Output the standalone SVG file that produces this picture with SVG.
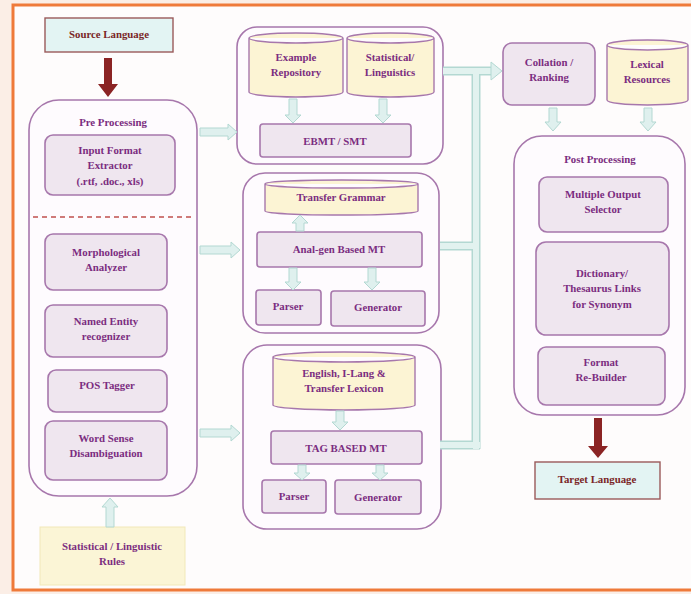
<svg xmlns="http://www.w3.org/2000/svg" width="691" height="594" viewBox="0 0 691 594">
<style>
.t{font-family:"Liberation Serif","Times New Roman",serif;font-weight:bold;font-size:10.8px;fill:#7b2d80;text-anchor:middle}
.r{fill:#7a2626}
.box{fill:#efe6ef;stroke:#a777ac;stroke-width:1.6}
.grp{fill:#fefbfe;stroke:#a777ac;stroke-width:1.6}
.cyl{fill:#fcf4d4;stroke:#a777ac;stroke-width:1.4}
.arr{fill:#dff0ee;stroke:#b3d8d2;stroke-width:1}
.bo{fill:none;stroke:#b3d8d2;stroke-width:9}
.bi{fill:none;stroke:#e2f2ef;stroke-width:6}
.lang{fill:#e3f4f3;stroke:#9a5a5a;stroke-width:1.4}
</style>
<rect x="0" y="0" width="691" height="594" fill="#fbeee6"/>
<rect x="13" y="5" width="690" height="585" fill="#fefcfc" stroke="#ef7a3a" stroke-width="3"/>

<g id="source-language">
<rect class="lang" x="45" y="18" width="128" height="34"/>
<text class="t r" x="109" y="38">Source Language</text>
</g>

<g id="pre-processing">
<rect class="grp" x="29" y="100" width="168" height="396" rx="30"/>
<text class="t" x="113" y="126">Pre Processing</text>
<line x1="33" y1="217" x2="193" y2="217" stroke="#c0504d" stroke-width="1.3" stroke-dasharray="5,4"/>
</g>
<g id="input-format">
<rect class="box" x="45" y="135" width="130" height="60" rx="8"/>
<text class="t" x="110" y="154">Input Format</text>
<text class="t" x="110" y="169">Extractor</text>
<text class="t" x="110" y="185">(.rtf, .doc., xls)</text>
</g>
<g id="morph">
<rect class="box" x="45" y="234" width="122" height="56" rx="8"/>
<text class="t" x="106" y="256">Morphological</text>
<text class="t" x="106" y="271">Analyzer</text>
</g>
<g id="ner">
<rect class="box" x="45" y="305" width="122" height="52" rx="8"/>
<text class="t" x="106" y="325">Named Entity</text>
<text class="t" x="106" y="340">recognizer</text>
</g>
<g id="pos">
<rect class="box" x="48" y="370" width="119" height="42" rx="8"/>
<text class="t" x="107" y="389">POS Tagger</text>
</g>
<g id="wsd">
<rect class="box" x="45" y="421" width="122" height="59" rx="8"/>
<text class="t" x="106" y="442">Word Sense</text>
<text class="t" x="106" y="457">Disambiguation</text>
</g>
<g id="stat-rules">
<rect x="40" y="527" width="145" height="58" fill="#fbf5d6" stroke="#f1e8b8" stroke-width="1"/>
<text class="t" x="112" y="550">Statistical / Linguistic</text>
<text class="t" x="112" y="565">Rules</text>
</g>

<g id="ebmt-group">
<rect class="grp" x="237" y="27" width="206" height="137" rx="20"/>
</g>
<g id="example-repo">
<path class="cyl" d="M249,38 A47,5 0 0 1 343,38 V92 A47,5 0 0 1 249,92 Z M249,38 A47,5 0 0 0 343,38"/>
<text class="t" x="296" y="61">Example</text>
<text class="t" x="296" y="76">Repository</text>
</g>
<g id="stat-ling">
<path class="cyl" d="M347,38 A43.5,5 0 0 1 434,38 V92 A43.5,5 0 0 1 347,92 Z M347,38 A43.5,5 0 0 0 434,38"/>
<text class="t" x="390" y="61">Statistical/</text>
<text class="t" x="390" y="76">Linguistics</text>
</g>
<g id="ebmt">
<rect class="box" x="260" y="124" width="151" height="33" rx="3"/>
<text class="t" x="335" y="145">EBMT / SMT</text>
</g>

<g id="analgen-group">
<rect class="grp" x="243" y="173" width="196" height="160" rx="22"/>
</g>
<g id="transfer-grammar">
<path class="cyl" d="M265,184 A76.5,4 0 0 1 418,184 V211 A76.5,4 0 0 1 265,211 Z M265,184 A76.5,4 0 0 0 418,184"/>
<text class="t" x="341" y="201">Transfer Grammar</text>
</g>
<g id="analgen">
<rect class="box" x="257" y="232" width="165" height="35" rx="3"/>
<text class="t" x="339" y="253">Anal-gen Based MT</text>
</g>
<g id="parser1">
<rect class="box" x="256" y="290" width="65" height="35" rx="3"/>
<text class="t" x="288" y="310">Parser</text>
</g>
<g id="generator1">
<rect class="box" x="331" y="291" width="94" height="35" rx="3"/>
<text class="t" x="378" y="311">Generator</text>
</g>

<g id="tag-group">
<rect class="grp" x="243" y="345" width="198" height="184" rx="24"/>
</g>
<g id="lexicon">
<path class="cyl" d="M273,357 A71,5 0 0 1 415,357 V405 A71,5 0 0 1 273,405 Z M273,357 A71,5 0 0 0 415,357"/>
<text class="t" x="344" y="377">English, I-Lang &amp;</text>
<text class="t" x="344" y="392">Transfer Lexicon</text>
</g>
<g id="tag">
<rect class="box" x="271" y="431" width="151" height="33" rx="3"/>
<text class="t" x="346" y="452">TAG BASED MT</text>
</g>
<g id="parser2">
<rect class="box" x="262" y="480" width="64" height="33" rx="3"/>
<text class="t" x="294" y="500">Parser</text>
</g>
<g id="generator2">
<rect class="box" x="335" y="480" width="86" height="34" rx="3"/>
<text class="t" x="378" y="501">Generator</text>
</g>

<g id="collation">
<rect class="box" x="503" y="43" width="92" height="62" rx="9"/>
<text class="t" x="549" y="66">Collation /</text>
<text class="t" x="549" y="81">Ranking</text>
</g>
<g id="lexical">
<path class="cyl" d="M607,45 A40.5,5 0 0 1 688,45 V100 A40.5,5 0 0 1 607,100 Z M607,45 A40.5,5 0 0 0 688,45"/>
<text class="t" x="647" y="68">Lexical</text>
<text class="t" x="647" y="83">Resources</text>
</g>

<g id="post-processing">
<rect class="grp" x="514" y="136" width="171" height="279" rx="28"/>
<text class="t" x="600" y="163">Post Processing</text>
</g>
<g id="mos">
<rect class="box" x="539" y="177" width="129" height="55" rx="8"/>
<text class="t" x="603" y="198">Multiple Output</text>
<text class="t" x="603" y="213">Selector</text>
</g>
<g id="dict">
<rect class="box" x="536" y="242" width="133" height="93" rx="10"/>
<text class="t" x="602" y="277">Dictionary/</text>
<text class="t" x="602" y="292">Thesaurus Links</text>
<text class="t" x="602" y="308">for Synonym</text>
</g>
<g id="format">
<rect class="box" x="538" y="347" width="127" height="58" rx="8"/>
<text class="t" x="601" y="366">Format</text>
<text class="t" x="601" y="381">Re-Builder</text>
</g>
<g id="target-language">
<rect class="lang" x="535" y="462" width="125" height="37"/>
<text class="t r" x="597" y="483">Target Language</text>
</g>

<g id="connectors">
<path d="M104,58 H112 V84 H118 L108,97 L98,84 H104 Z" fill="#8b2424"/>
<path d="M594,418 H602 V446 H608 L598,458 L588,446 H594 Z" fill="#8b2424"/>
<path class="arr" d="M200,128 H228 V124 L237,132 L228,140 V136 H200 Z"/>
<path class="arr" d="M200,246 H231 V242 L240,250 L231,258 V254 H200 Z"/>
<path class="arr" d="M200,429 H231 V425 L240,433 L231,441 V437 H200 Z"/>
<path class="arr" d="M106,527 V507 H102 L110,498 L118,507 H114 V527 Z"/>
<path class="arr" d="M289,99 V115 H285 L293,123 L301,115 H297 V99 Z"/>
<path class="arr" d="M379,99 V115 H375 L383,123 L391,115 H387 V99 Z"/>
<path class="arr" d="M296,231 V223 H292 L300,215 L308,223 H304 V231 Z"/>
<path class="arr" d="M289,268 V282 H285 L293,290 L301,282 H297 V268 Z"/>
<path class="arr" d="M368,268 V282 H364 L372,290 L380,282 H376 V268 Z"/>
<path class="arr" d="M336,411 V422 H332 L340,430 L348,422 H344 V411 Z"/>
<path class="arr" d="M298,465 V473 H294 L302,480 L310,473 H306 V465 Z"/>
<path class="arr" d="M376,465 V473 H372 L380,480 L388,473 H384 V465 Z"/>
<path class="arr" d="M549,108 V122 H545 L553,131 L561,122 H557 V108 Z"/>
<path class="arr" d="M644,108 V122 H640 L648,131 L656,122 H652 V108 Z"/>
<path class="bo" d="M443,71 H492 M476,71 V449 M440,246 H476 M440,445 H480"/>
<path class="bi" d="M443,71 H493 M476,71 V449 M440,246 H476 M440,445 H480"/>
<path class="arr" d="M491,62 L502,71 L491,80 Z"/>
</g>
</svg>
